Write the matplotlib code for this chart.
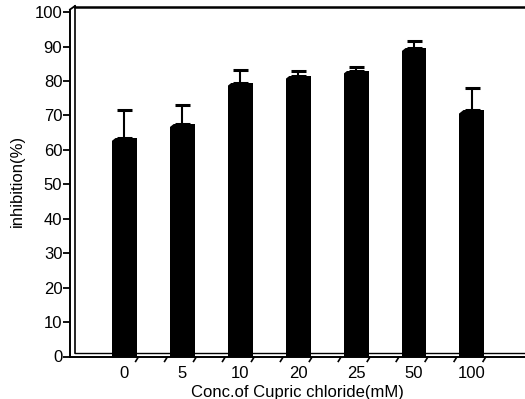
import numpy as np
import matplotlib.pyplot as plt
import matplotlib.transforms as mtransforms
from matplotlib.patches import Polygon

plt.rcParams['font.family'] = ['Liberation Sans', 'DejaVu Sans']

# inhibition (%) vs. cupric chloride concentration
conc_labels = ['0', '5', '10', '20', '25', '50', '100']
inhibition = [63.5, 67.5, 79.5, 81.5, 83, 89.5, 71.5]
inhibition_sd = [8.2, 5.5, 3.8, 1.4, 1.0, 2.0, 6.6]

x = np.arange(len(conc_labels))
bar_w = 0.43

fig = plt.figure(figsize=(5.25, 3.99), dpi=100)
ax = fig.add_axes([70 / 525, 1 - 356.5 / 399, 1 - 70 / 525, (356.5 - 6) / 399])

bars = ax.bar(x, inhibition, width=bar_w, color='black', zorder=3)
ax.errorbar(x, inhibition, yerr=[np.zeros(len(x)), inhibition_sd],
            fmt='none', ecolor='black', elinewidth=1.5, capsize=5.4, capthick=2.2,
            zorder=4)

# bevel the top-left corner of each bar
for b in bars:
    x0, top = b.get_x(), b.get_height()
    ax.add_patch(Polygon([(x0 - 0.01, top + 0.2), (x0 - 0.01, top - 1.0), (x0 + 0.08, top + 0.2)],
                         closed=True, facecolor='white', edgecolor='none', zorder=3.5))

ax.set_xlim(-0.941, 6.917)
ax.set_ylim(0, 350.5 / 3.444)
ax.set_yticks(np.arange(0, 101, 10))
ax.set_xticks(x)
ax.set_xticklabels(conc_labels)
ax.tick_params(axis='x', length=0, pad=7, labelsize=12)
ax.tick_params(axis='y', length=5, width=1.3, direction='out', labelsize=12, pad=0.5)

# slanted floor ticks next to the bars
trans = mtransforms.blended_transform_factory(ax.transData, ax.transAxes)
edges = list(x[1:] - bar_w / 2 - 0.07) + list(x + bar_w / 2)
for e in edges:
    ax.plot([e - 0.03, e + 0.03], [-0.016, 0.0], transform=trans, color='black',
            lw=1.2, clip_on=False, solid_capstyle='butt')

ax.spines['right'].set_visible(False)
ax.spines['top'].set_visible(False)
ax.spines['left'].set_linewidth(1.4)
ax.spines['left'].set_bounds(0, ax.get_ylim()[1] * 0.99)
ax.spines['bottom'].set_linewidth(1.4)

# back wall and floor of the box
ax.plot([0.0, 0.011], [0.99, 1.0], transform=ax.transAxes, color='black', lw=1.3, clip_on=False)
ax.plot([0.011, 0.011], [0.01, 1.0], transform=ax.transAxes, color='black', lw=1.2, clip_on=False)
ax.plot([0.011, 1.0], [0.997, 0.997], transform=ax.transAxes, color='black', lw=1.8, clip_on=False)
ax.plot([0.011, 1.0], [0.01, 0.01], transform=ax.transAxes, color='black', lw=1.0, clip_on=False)

ax.set_xlabel('Conc.of Cupric chloride(mM)', fontsize=12, labelpad=2.5)
ax.set_ylabel('inhibition(%)', fontsize=12, labelpad=7)

fig.savefig('out.png', dpi=100)
